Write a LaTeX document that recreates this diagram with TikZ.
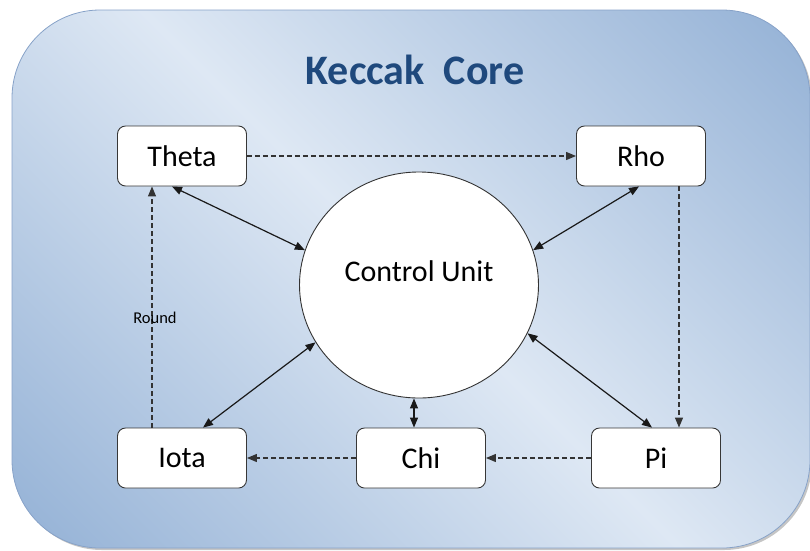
\documentclass[tikz,border=0pt]{standalone}
\usepackage{fontspec}
\setmainfont{Carlito}
\usetikzlibrary{shapes.geometric,arrows.meta,calc}
\definecolor{bgdark}{RGB}{146,176,213}
\definecolor{bglight}{RGB}{222,232,244}
\definecolor{bgborder}{RGB}{135,162,200}
\definecolor{titleblue}{RGB}{31,73,125}
\definecolor{boxline}{RGB}{55,55,55}
\pgfdeclareverticalshading{bgshade}{100bp}{color(0bp)=(bgdark); color(14bp)=(bgdark); color(50bp)=(bglight); color(86bp)=(bgdark); color(100bp)=(bgdark)}
\begin{document}
\begin{tikzpicture}[x=1pt,y=-1pt,
  stagebox/.style={draw=boxline, line width=0.9pt, fill=white, rounded corners=8pt,
    minimum width=129pt, minimum height=60pt, inner sep=0pt,
    font=\fontsize{30}{35}\selectfont},
  ctrl/.style={draw=black!80, line width=0.9pt, fill=white, ellipse,
    minimum width=239pt, minimum height=226pt, inner sep=0pt},
  flow/.style={draw=black!80, line width=1.2pt, dash pattern=on 5pt off 3pt,
    -{Triangle[length=10pt,width=8pt]}},
  link/.style={draw=black!90, line width=1.2pt,
    {Triangle[length=10pt,width=8pt]}-{Triangle[length=10pt,width=8pt]}},
  lbl/.style={inner sep=0pt, font=\fontsize{16.5}{19}\selectfont},
]
\useasboundingbox (0,0) rectangle (810,550);
% background panel
\fill[black!45, opacity=0.5, rounded corners=88pt] (14,12) rectangle (812,550);
\path[shading=bgshade, shading angle=-45, draw=bgborder, line width=0.8pt, rounded corners=88pt]
  (12,10) rectangle (810,548);

\node[font=\fontsize{42}{50}\selectfont\bfseries, text=titleblue] (title) at (415,70) {Keccak\ \ Core};

\node[stagebox] (theta) at (182,156) {Theta};
\node[stagebox] (rho)   at (641,156) {Rho};
\node[stagebox] (iota)  at (182,458) {Iota};
\node[stagebox] (chi)   at (421,458) {Chi};
\node[stagebox] (pi)    at (656,458) {Pi};

\node[ctrl] (cu) at (419,285) {};
\node[font=\fontsize{30}{35}\selectfont] (cutext) at ([yshift=14pt]cu.center) {Control Unit};

% data flow (dashed)
\draw[flow] (theta) -- (rho);
\draw[flow] ([xshift=38pt]rho.south) -- ([xshift=23pt]pi.north);
\draw[flow] (pi) -- (chi);
\draw[flow] (chi) -- (iota);
\draw[flow] ([xshift=-30pt]iota.north) -- ([xshift=-30pt]theta.south)
  node[lbl, pos=0.455, xshift=3pt] (round) {Round};

% control links
\draw[link] ([xshift=-10pt]theta.south) -- (cu.163);
\draw[link] ([xshift=-2pt]rho.south) -- (cu.17);
\draw[link] ([xshift=21pt]iota.north) -- (cu.209);
\draw[link] ([xshift=-4pt]pi.north) -- (cu.-24);
\draw[link] ([xshift=-7pt]chi.north) -- ([xshift=-5pt]cu.south);
\end{tikzpicture}
\end{document}
